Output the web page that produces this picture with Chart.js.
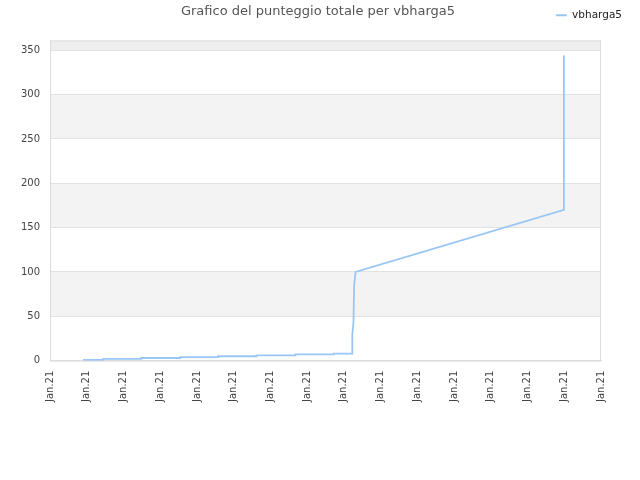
<!DOCTYPE html>
<html>
<head>
<meta charset="utf-8">
<script src="https://cdn.jsdelivr.net/npm/chart.js@4"></script>
<style>
  html, body { margin: 0; padding: 0; background: #fff; }
  #wrap { width: 640px; height: 480px; }
</style>
</head>
<body>
<div id="wrap"><canvas id="scoreChart" width="640" height="480"></canvas></div>
<script>
// tick labels along the x axis (all the same date)
const tickLabels = ['Jan.21', 'Jan.21', 'Jan.21', 'Jan.21', 'Jan.21', 'Jan.21', 'Jan.21', 'Jan.21',
                    'Jan.21', 'Jan.21', 'Jan.21', 'Jan.21', 'Jan.21', 'Jan.21', 'Jan.21', 'Jan.21'];

// score series, vertices of the step line (x in tick slots)
const scoreX = [0.9, 1.45, 1.45, 2.48, 2.48, 3.55, 3.55, 4.58, 4.58, 5.62, 5.62, 6.68, 6.68, 7.72, 7.72,
                8.23, 8.23, 8.26, 8.28, 8.32, 13.99, 13.99];
const scoreY = [1, 1, 2, 2, 3, 3, 4, 4, 5, 5, 6, 6, 7, 7, 8,
                8, 30, 42, 85, 100, 170, 344];

const yTicks = [0, 50, 100, 150, 200, 250, 300, 350];
const yMax = 361;

const points = scoreX.map((x, i) => ({ x: x, y: scoreY[i] }));

const FONT = 'DejaVu Sans';

// alternating horizontal bands behind the plot + outer frame
const bandsPlugin = {
    id: 'bands',
    beforeDraw(chart) {
        const { ctx, chartArea, scales } = chart;
        const y = scales.y;
        ctx.save();
        const edges = yTicks.concat([yMax]);
        for (let i = 0; i < edges.length - 1; i++) {
            if (i % 2 === 0) continue;
            const top = y.getPixelForValue(edges[i + 1]);
            const bottom = y.getPixelForValue(edges[i]);
            ctx.fillStyle = i === edges.length - 2 ? '#eeeeee' : '#f3f3f3';
            ctx.fillRect(chartArea.left, top, chartArea.right - chartArea.left, bottom - top);
        }
        ctx.strokeStyle = '#dddddd';
        ctx.lineWidth = 1;
        ctx.strokeRect(chartArea.left + 0.5, chartArea.top + 0.5,
                       chartArea.right - chartArea.left - 1, chartArea.bottom - chartArea.top);
        ctx.restore();
    }
};

// title drawn on the same row as the legend
const titlePlugin = {
    id: 'rowTitle',
    afterDraw(chart) {
        const ctx = chart.ctx;
        ctx.save();
        ctx.font = '13px "' + FONT + '"';
        ctx.fillStyle = '#555555';
        ctx.textAlign = 'center';
        ctx.textBaseline = 'middle';
        ctx.fillText('Grafico del punteggio totale per vbharga5', 318, 12);
        ctx.restore();
    }
};

// empty spacer axes to hold the plot away from the legend row and the right edge
const spacer = (size, horizontal) => ({
    display: true,
    grid: { display: false, drawTicks: false },
    border: { display: false },
    ticks: { display: false },
    afterFit: (scale) => {
        if (horizontal) scale.height = size; else scale.width = size;
    }
});

new Chart(document.getElementById('scoreChart').getContext('2d'), {
    type: 'line',
    data: {
        datasets: [{
            label: 'vbharga5',
            data: points,
            borderColor: '#99c7f5',
            backgroundColor: '#99c7f5',
            borderWidth: 1.8,
            pointRadius: 0,
            fill: false,
            tension: 0
        }]
    },
    options: {
        responsive: false,
        animation: false,
        layout: { padding: { left: 0, right: 8, top: 0, bottom: 68 } },
        plugins: {
            title: { display: false },
            tooltip: { enabled: false },
            legend: {
                position: 'top',
                align: 'end',
                labels: {
                    usePointStyle: true,
                    pointStyle: 'line',
                    pointStyleWidth: 11,
                    boxHeight: 10,
                    color: '#222222',
                    font: { family: FONT, size: 10.5 },
                    padding: 10
                }
            }
        },
        scales: {
            x: {
                type: 'linear',
                min: 0,
                max: tickLabels.length - 1,
                grid: { display: false, drawTicks: false },
                border: { display: true, color: '#dddddd' },
                ticks: {
                    stepSize: 1,
                    autoSkip: false,
                    maxRotation: 90,
                    minRotation: 90,
                    padding: 10,
                    color: '#444444',
                    font: { family: FONT, size: 10 },
                    callback: (v) => tickLabels[v]
                }
            },
            xTop: Object.assign({ type: 'linear', position: 'top' }, spacer(10, true)),
            y: {
                min: 0,
                max: yMax,
                afterBuildTicks: (scale) => {
                    scale.ticks = yTicks.map(v => ({ value: v }));
                },
                afterFit: (scale) => { scale.width = 50; },
                grid: { color: '#e2e2e2', drawTicks: false },
                border: { display: true, color: '#dddddd' },
                ticks: {
                    padding: 10,
                    color: '#444444',
                    font: { family: FONT, size: 10 }
                }
            },
            yRight: Object.assign({ type: 'linear', position: 'right' }, spacer(31, false))
        }
    },
    plugins: [bandsPlugin, titlePlugin]
});
</script>
</body>
</html>
